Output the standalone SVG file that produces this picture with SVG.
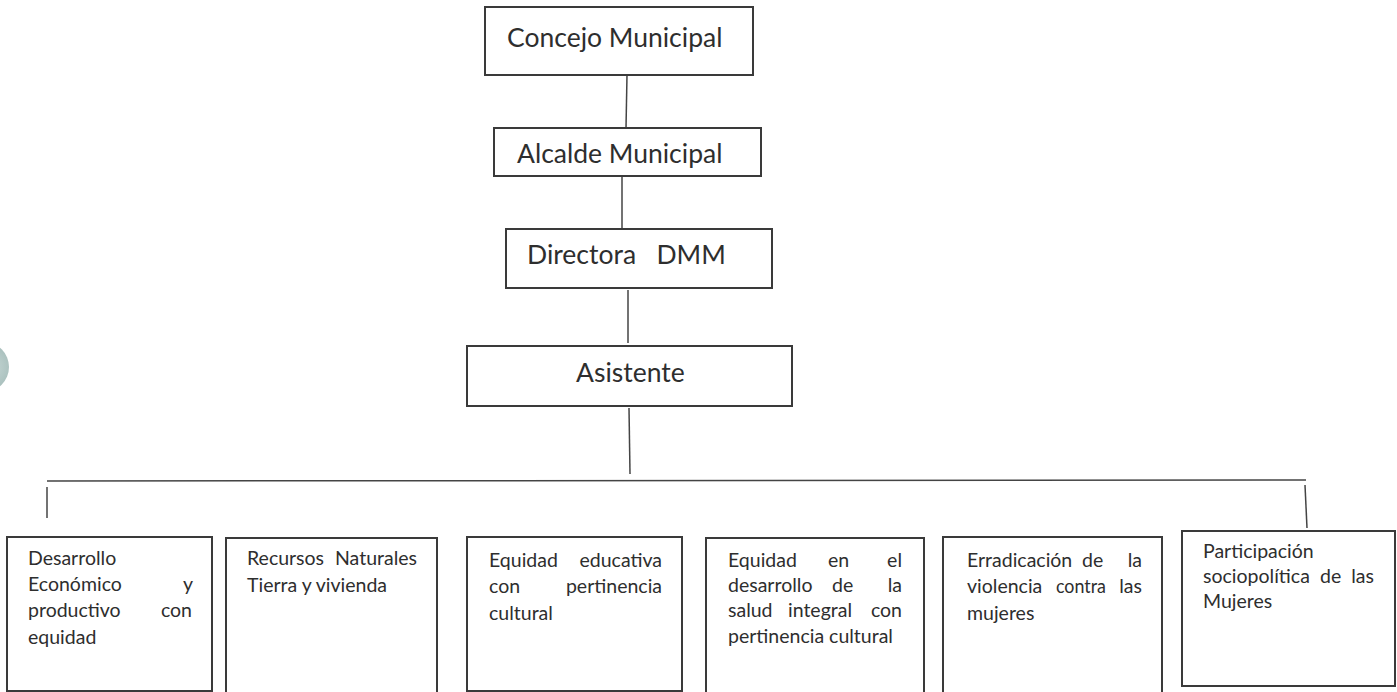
<svg xmlns="http://www.w3.org/2000/svg" width="1397" height="692" viewBox="0 0 1397 692">
<style>
.box{fill:#fff;stroke:#3a3a3a;stroke-width:2}
.t{font-family:Lato,"Open Sans","Liberation Sans",sans-serif;fill:#2e2e2e}
.big{font-size:26.5px}
.sm{font-size:19.5px}
.e{text-anchor:end}
.ln{stroke:#444;stroke-width:1.5;fill:none}
</style>
<defs><radialGradient id="blob" cx="0.6" cy="0.5" r="0.6"><stop offset="0" stop-color="#c9d9d7"/><stop offset="1" stop-color="#9fb8b5"/></radialGradient></defs>
<rect width="1397" height="692" fill="#fff"/>
<circle cx="-16" cy="367" r="25" fill="url(#blob)"/>
<g id="connectors">
<line class="ln" x1="627" y1="75" x2="626" y2="128"/>
<line class="ln" x1="622" y1="176" x2="622" y2="229"/>
<line class="ln" x1="628" y1="290" x2="628" y2="343"/>
<line class="ln" x1="629" y1="408" x2="630" y2="474"/>
<line class="ln" x1="47" y1="481" x2="1306" y2="480"/>
<line class="ln" x1="47" y1="487" x2="47" y2="518"/>
<line class="ln" x1="1305" y1="485" x2="1307" y2="528"/>
</g>
<g id="concejo"><rect class="box" x="485" y="7" width="268" height="68"/><text class="t big" x="507" y="47">Concejo Municipal</text></g>
<g id="alcalde"><rect class="box" x="494" y="128" width="267" height="48"/><text class="t big" x="517" y="163">Alcalde Municipal</text></g>
<g id="directora"><rect class="box" x="506" y="229" width="266" height="59"/><text class="t big" x="527" y="264" xml:space="preserve">Directora   DMM</text></g>
<g id="asistente"><rect class="box" x="467" y="346" width="325" height="60"/><text class="t big" x="576" y="382">Asistente</text></g>
<g id="desarrollo"><rect class="box" x="7" y="537" width="205" height="154"/>
<text class="t sm" x="28" y="565">Desarrollo</text>
<text class="t sm" x="28" y="591">Económico</text><text class="t sm e" x="193" y="591">y</text>
<text class="t sm" x="28" y="617">productivo</text><text class="t sm e" x="192" y="617">con</text>
<text class="t sm" x="28" y="644">equidad</text></g>
<g id="recursos"><rect class="box" x="226" y="538" width="211" height="156"/>
<text class="t sm" x="247" y="565">Recursos</text><text class="t sm e" x="417" y="565">Naturales</text>
<text class="t sm" x="247" y="592">Tierra y vivienda</text></g>
<g id="educativa"><rect class="box" x="467" y="537" width="215" height="154"/>
<text class="t sm" x="489" y="567">Equidad</text><text class="t sm e" x="662" y="567">educativa</text>
<text class="t sm" x="489" y="593">con</text><text class="t sm e" x="662" y="593">pertinencia</text>
<text class="t sm" x="489" y="620">cultural</text></g>
<g id="salud"><rect class="box" x="706" y="538" width="218" height="156"/>
<text class="t sm" x="728" y="567">Equidad</text><text class="t sm" x="828" y="567">en</text><text class="t sm e" x="902" y="567">el</text>
<text class="t sm" x="728" y="592">desarrollo</text><text class="t sm" x="832" y="592">de</text><text class="t sm e" x="902" y="592">la</text>
<text class="t sm" x="728" y="617">salud</text><text class="t sm" x="788" y="617">integral</text><text class="t sm e" x="902" y="617">con</text>
<text class="t sm" x="728" y="643">pertinencia cultural</text></g>
<g id="violencia"><rect class="box" x="943" y="537" width="219" height="156"/>
<text class="t sm" x="967" y="567">Erradicación</text><text class="t sm" x="1082" y="567">de</text><text class="t sm e" x="1142" y="567">la</text>
<text class="t sm" x="967" y="593">violencia</text><text class="t sm" x="1056" y="593" textLength="50" lengthAdjust="spacingAndGlyphs">contra</text><text class="t sm e" x="1142" y="593">las</text>
<text class="t sm" x="967" y="620">mujeres</text></g>
<g id="participacion"><rect class="box" x="1182" y="531" width="213" height="155"/>
<text class="t sm" x="1203" y="558">Participación</text>
<text class="t sm" x="1203" y="583">sociopolítica</text><text class="t sm" x="1320" y="583">de</text><text class="t sm e" x="1374" y="583">las</text>
<text class="t sm" x="1203" y="608">Mujeres</text></g>
</svg>
